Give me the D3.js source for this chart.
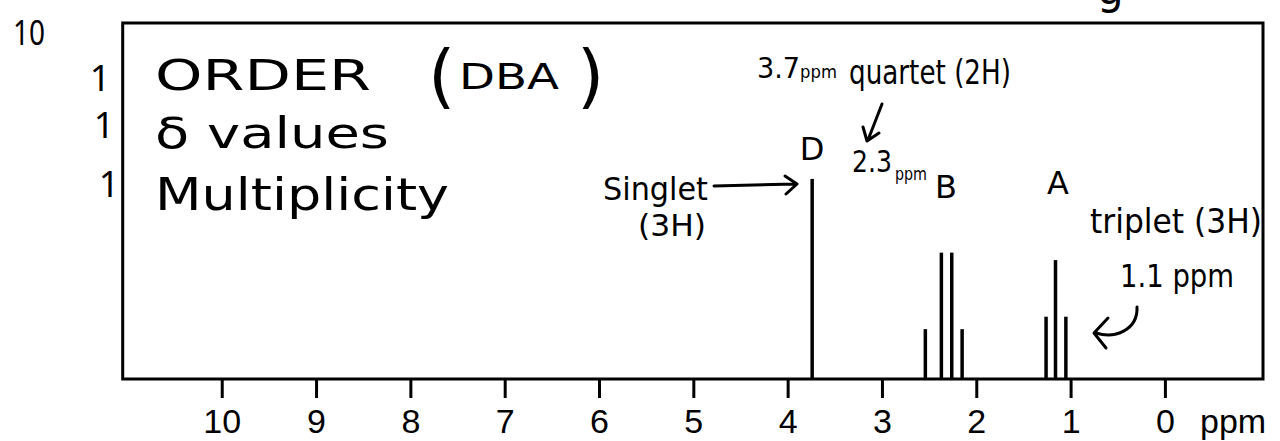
<!DOCTYPE html>
<html>
<head>
<meta charset="utf-8">
<script src="https://cdn.jsdelivr.net/npm/d3@7"></script>
<style>
  html, body { margin: 0; padding: 0; background: #fff; }
  svg { display: block; }
</style>
</head>
<body>
<svg id="chart" width="1280" height="441"></svg>
<script>
// ---- data ----
const ppmTicks = [10, 9, 8, 7, 6, 5, 4, 3, 2, 1, 0];
const peakShift  = [3.74, 2.54, 2.37, 2.26, 2.15, 1.26, 1.16, 1.05];
const peakHeight = [56.2, 14.0, 35.5, 35.5, 14.0, 17.5, 33.4, 17.5];
const peakGroup  = ["D", "B", "B", "B", "B", "A", "A", "A"];
const axisUnit = "ppm";

const svg = d3.select("#chart");
const frame = { left: 122.7, right: 1263, top: 23, bottom: 379 };

const x = d3.scaleLinear().domain([11.05, -1.04]).range([frame.left, frame.right]);
const y = d3.scaleLinear().domain([0, 100]).range([frame.bottom, frame.top]);

// frame
svg.append("rect")
  .attr("x", frame.left).attr("y", frame.top)
  .attr("width", frame.right - frame.left).attr("height", frame.bottom - frame.top)
  .attr("fill", "none").attr("stroke", "#000").attr("stroke-width", 3);

// axis
const axis = d3.axisBottom(x).tickValues(ppmTicks).tickSize(19).tickPadding(11)
  .tickFormat(d3.format("d"));
const gAxis = svg.append("g").attr("transform", `translate(0,${frame.bottom})`).call(axis);
gAxis.select(".domain").remove();
gAxis.selectAll(".tick line").attr("stroke", "#000").attr("stroke-width", 3);
gAxis.selectAll(".tick text")
  .attr("fill", "#000")
  .style("font-family", "'Liberation Sans', Arial, sans-serif")
  .style("font-size", "34px");
svg.append("text").attr("x", 1200).attr("y", 433)
  .style("font-family", "'Liberation Sans', Arial, sans-serif")
  .style("font-size", "34px").text(axisUnit);

// peaks
const peaks = peakShift.map((s, i) => ({ s, h: peakHeight[i], g: peakGroup[i] }));
svg.append("g").selectAll("line").data(peaks).join("line")
  .attr("x1", d => x(d.s)).attr("x2", d => x(d.s))
  .attr("y1", y(0)).attr("y2", d => y(d.h))
  .attr("stroke", "#000").attr("stroke-width", 3.5);

// handwritten annotations
const hand = "'DejaVu Sans', 'Noto Sans', sans-serif";
const plain = "'Noto Sans', 'Liberation Sans', sans-serif";
function note(t, px, py, size, len, anchor, fam) {
  const el = svg.append("text").attr("x", px).attr("y", py)
    .style("font-family", fam || hand).style("font-size", size + "px")
    .attr("text-anchor", anchor || "start").attr("fill", "#000").text(t);
  if (len) el.attr("textLength", len).attr("lengthAdjust", "spacingAndGlyphs");
  return el;
}
note("10", 13, 45, 34, 32, null, plain);
note("1", 100, 91, 36, null, "middle", plain);
note("1", 104, 138, 36, null, "middle", plain);
note("1", 109, 197, 36, null, "middle", plain);
note("ORDER", 155, 90, 42, 216);
note("(", 428, 100, 70);
note("DBA", 459, 89, 36, 100);
note(")", 577, 100, 70);
note("δ values", 155, 148, 42, 234);
note("Multiplicity", 155, 210, 44, 294);

const t37 = svg.append("text").attr("x", 757).attr("y", 78).style("font-family", hand)
  .attr("textLength", 80).attr("lengthAdjust", "spacingAndGlyphs");
t37.append("tspan").style("font-size", "28px").text("3.7");
t37.append("tspan").style("font-size", "17px").text("ppm");

note("quartet (2H)", 849, 84, 34, 162);
note("D", x(3.74), 160, 32, null, "middle");
note("2.3", 852, 172, 30, 40);
note("ppm", 895, 180, 18, 32);

note("Singlet", 603, 200, 32, 105);
note("(3H)", 638, 236, 30, 68);
note("B", 946, 198, 32, null, "middle");
note("A", 1058, 194, 32, null, "middle");
note("triplet (3H)", 1090, 233, 34, 172);
note("1.1 ppm", 1120, 287, 32, 114);
note("g", 1097, 4, 42);

const pen = { fill: "none", stroke: "#000", "stroke-width": 3, "stroke-linecap": "round", "stroke-linejoin": "round" };
function stroke(d) {
  const p = svg.append("path").attr("d", d);
  Object.entries(pen).forEach(([k, v]) => p.attr(k, v));
}
// singlet arrow
stroke("M714,186 L795,184 M785,176 L797,184 L786,194");
// quartet arrow
stroke("M882,104 L868,140 M863,127 L867,141 L879,133");
// triplet curved arrow
stroke("M1137,307 C1138,330 1115,339 1096,333 M1108,318 L1094,333 L1106,348");
</script>
</body>
</html>
